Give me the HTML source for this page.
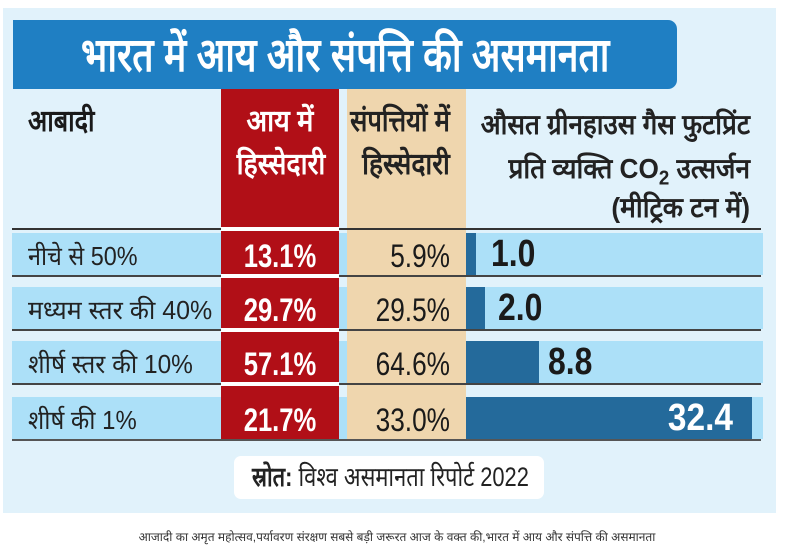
<!DOCTYPE html>
<html><head><meta charset="utf-8">
<style>
*{margin:0;padding:0;box-sizing:border-box}
body{width:800px;height:550px;background:#fff;position:relative;overflow:hidden;font-family:"Liberation Sans",sans-serif;color:#1f1f1f}
.a{position:absolute}
.t{position:absolute;white-space:nowrap}
.c{text-align:center;transform-origin:50% 50%}
.r{text-align:right;transform-origin:100% 50%}
.l{text-align:left;transform-origin:0 50%}
.num{font-size:32px;line-height:42px}
.lbl{font-size:26px;line-height:42px;color:#222}
.h{font-weight:bold}
</style></head><body>
<!-- panel -->
<div class="a" style="left:3px;top:8px;width:773px;height:505px;background:#e1f2fb"></div>
<!-- title bar -->
<div class="a" style="left:13px;top:20px;width:664px;height:69px;background:#1f7fc3;border-radius:0 9px 9px 0"></div>
<div class="t c" style="left:13px;top:20px;width:664px;height:69px;line-height:69px;font-size:47px;font-weight:bold;color:#fff;transform:scaleX(0.795)">भारत में आय और संपत्ति की असमानता</div>

<!-- columns -->
<div class="a" style="left:221px;top:89px;width:118px;height:352px;background:#b10f17"></div>
<div class="a" style="left:347px;top:89px;width:119px;height:352px;background:#efd6ae"></div>

<!-- header texts -->
<div class="t l h" style="left:28px;top:101px;font-size:30px;line-height:42px;color:#1a1a1a;transform:scaleX(0.84)">आबादी</div>
<div class="t c h" style="left:180px;top:101px;width:200px;font-size:30px;line-height:42px;color:#fff;transform:scaleX(0.9)">आय में</div>
<div class="t c h" style="left:181px;top:144px;width:200px;font-size:30px;line-height:42px;color:#fff;transform:scaleX(0.89)">हिस्सेदारी</div>
<div class="t c h" style="left:300px;top:101px;width:200px;font-size:30px;line-height:42px;color:#222;transform:scaleX(0.85)">संपत्तियों में</div>
<div class="t c h" style="left:306px;top:144px;width:200px;font-size:30px;line-height:42px;color:#222;transform:scaleX(0.88)">हिस्सेदारी</div>
<div class="t r h" style="left:350px;top:104px;width:400px;font-size:28px;line-height:42px;color:#222;transform:scaleX(0.93)">औसत ग्रीनहाउस गैस फुटप्रिंट</div>
<div class="t r h" style="left:350px;top:148px;width:400px;font-size:28px;line-height:42px;color:#222;transform:scaleX(0.935)">प्रति व्यक्ति CO<sub style="font-size:20px">2</sub> उत्सर्जन</div>
<div class="t r h" style="left:350px;top:188px;width:400px;font-size:28px;line-height:40px;color:#222;transform:scaleX(0.94)">(मीट्रिक टन में)</div>

<!-- header line -->
<div class="a" style="left:12px;top:228px;width:749px;height:2px;background:#333"></div>
<div class="a" style="left:221px;top:227px;width:118px;height:4px;background:#fff"></div>

<!-- row 1 -->
<div class="a" style="left:12px;top:233px;width:209px;height:42px;background:#ace0f8"></div>
<div class="a" style="left:339px;top:233px;width:8px;height:42px;background:#ace0f8"></div>
<div class="a" style="left:466px;top:233px;width:297px;height:42px;background:#ace0f8"></div>
<div class="a" style="left:466px;top:233px;width:10px;height:42px;background:#246a9b"></div>
<div class="a" style="left:12px;top:275px;width:749px;height:2px;background:#444"></div>
<div class="a" style="left:221px;top:274px;width:118px;height:4px;background:#fff"></div>

<!-- row 2 -->
<div class="a" style="left:12px;top:287px;width:209px;height:42px;background:#ace0f8"></div>
<div class="a" style="left:339px;top:287px;width:8px;height:42px;background:#ace0f8"></div>
<div class="a" style="left:466px;top:287px;width:297px;height:42px;background:#ace0f8"></div>
<div class="a" style="left:466px;top:287px;width:19px;height:42px;background:#246a9b"></div>
<div class="a" style="left:12px;top:329px;width:749px;height:2px;background:#444"></div>
<div class="a" style="left:221px;top:328px;width:118px;height:4px;background:#fff"></div>

<!-- row 3 -->
<div class="a" style="left:12px;top:341px;width:209px;height:42px;background:#ace0f8"></div>
<div class="a" style="left:339px;top:341px;width:8px;height:42px;background:#ace0f8"></div>
<div class="a" style="left:466px;top:341px;width:297px;height:42px;background:#ace0f8"></div>
<div class="a" style="left:466px;top:341px;width:73px;height:42px;background:#246a9b"></div>
<div class="a" style="left:12px;top:383px;width:749px;height:2px;background:#444"></div>
<div class="a" style="left:221px;top:382px;width:118px;height:4px;background:#fff"></div>

<!-- row 4 -->
<div class="a" style="left:12px;top:397px;width:209px;height:42px;background:#ace0f8"></div>
<div class="a" style="left:339px;top:397px;width:8px;height:42px;background:#ace0f8"></div>
<div class="a" style="left:466px;top:397px;width:297px;height:42px;background:#ace0f8"></div>
<div class="a" style="left:466px;top:397px;width:286px;height:42px;background:#246a9b"></div>
<div class="a" style="left:12px;top:439px;width:749px;height:2px;background:#555"></div>

<!-- row texts -->
<div class="t l lbl" style="left:28px;top:235px;transform:scaleX(0.9)">नीचे से 50%</div>
<div class="t l lbl" style="left:28px;top:289px;transform:scaleX(0.96)">मध्यम स्तर की 40%</div>
<div class="t l lbl" style="left:28px;top:343px;transform:scaleX(0.94)">शीर्ष स्तर की 10%</div>
<div class="t l lbl" style="left:28px;top:399px;transform:scaleX(0.92)">शीर्ष की 1%</div>

<div class="t c num" style="left:180px;top:235px;width:200px;color:#fff;font-weight:bold;transform:scaleX(0.8)">13.1%</div>
<div class="t c num" style="left:180px;top:289px;width:200px;color:#fff;font-weight:bold;transform:scaleX(0.8)">29.7%</div>
<div class="t c num" style="left:180px;top:343px;width:200px;color:#fff;font-weight:bold;transform:scaleX(0.8)">57.1%</div>
<div class="t c num" style="left:180px;top:399px;width:200px;color:#fff;font-weight:bold;transform:scaleX(0.8)">21.7%</div>

<div class="t r num" style="left:50px;top:235px;width:400px;color:#1a1a1a;transform:scaleX(0.82)">5.9%</div>
<div class="t r num" style="left:50px;top:289px;width:400px;color:#1a1a1a;transform:scaleX(0.82)">29.5%</div>
<div class="t r num" style="left:50px;top:343px;width:400px;color:#1a1a1a;transform:scaleX(0.82)">64.6%</div>
<div class="t r num" style="left:50px;top:399px;width:400px;color:#1a1a1a;transform:scaleX(0.82)">33.0%</div>

<div class="t l" style="left:491px;top:233px;font-size:38px;line-height:42px;font-weight:bold;color:#1a1a1a;transform:scaleX(0.84)">1.0</div>
<div class="t l" style="left:498px;top:287px;font-size:38px;line-height:42px;font-weight:bold;color:#1a1a1a;transform:scaleX(0.84)">2.0</div>
<div class="t l" style="left:548px;top:341px;font-size:38px;line-height:42px;font-weight:bold;color:#1a1a1a;transform:scaleX(0.84)">8.8</div>
<div class="t r" style="left:333px;top:397px;width:400px;font-size:38px;line-height:42px;font-weight:bold;color:#fff;transform:scaleX(0.88)">32.4</div>

<!-- source box -->
<div class="a" style="left:234px;top:456px;width:310px;height:43px;background:#fff;border-radius:7px"></div>
<div class="t l" style="left:252px;top:456px;height:43px;line-height:43px;font-size:27px;color:#222;transform:scaleX(0.81)"><b>स्रोत:</b> विश्व असमानता रिपोर्ट 2022</div>

<!-- caption -->
<div class="t c" style="left:-3px;top:528px;width:800px;font-size:12px;line-height:18px;color:#333">आजादी का अमृत महोत्सव,पर्यावरण संरक्षण सबसे बड़ी जरूरत आज के वक्त की,भारत में आय और संपत्ति की असमानता</div>
</body></html>
